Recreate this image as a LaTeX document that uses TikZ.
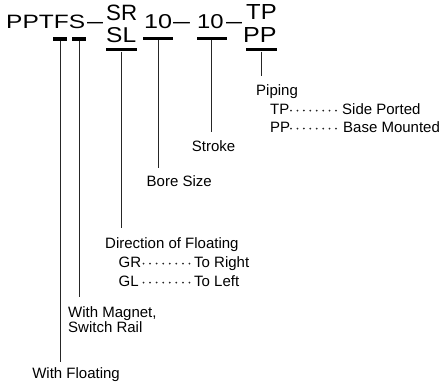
\documentclass[tikz,border=0pt]{standalone}
\usepackage{fontspec}
\setmainfont{Liberation Sans}
\usepackage{graphicx}
\newcommand\hdrbox[3]{\resizebox{#1pt}{#2pt}{#3}}
\begin{document}
\begin{tikzpicture}[x=1pt,y=-1pt,
  lbl/.style={anchor=base west,inner sep=0pt,font=\fontsize{15}{18}\selectfont},
  lble/.style={anchor=base east,inner sep=0pt,font=\fontsize{15}{18}\selectfont},
  hdr/.style={anchor=base west,inner sep=0pt},
  dashtxt/.style={anchor=base,inner sep=0pt,font=\fontsize{21}{24}\selectfont},
  barbox/.style={fill=black,inner sep=0pt,minimum height=3.3pt},
  conn/.style={line width=0.9pt,black!85},
  leaderdot/.style={fill=black!85}
  ]
\useasboundingbox (0,0) rectangle (444,388);

% header code
\node[hdr] (pptfs) at (6,28.3) {\hdrbox{79}{13.5}{PPTFS}};
\node[dashtxt] (d1) at (95,28.6) {\scalebox{1.37}[1]{–}};
\node[hdr] (sr) at (106,20) {\hdrbox{31}{15.5}{SR}};
\node[hdr] (sl) at (106,42.7) {\hdrbox{30}{15}{SL}};
\node[hdr] (bore) at (144,29) {\hdrbox{28}{14}{10}};
\node[dashtxt] (d2) at (181.5,28.6) {\scalebox{1.45}[1]{–}};
\node[hdr] (stroke) at (197,29) {\hdrbox{26.5}{14}{10}};
\node[dashtxt] (d3) at (234,28.6) {\scalebox{1.37}[1]{–}};
\node[hdr] (tp) at (246,19.3) {\hdrbox{30.5}{15}{TP}};
\node[hdr] (pp) at (243,42.7) {\hdrbox{33.5}{15}{PP}};

% bars
\node[barbox,minimum width=13.4pt] (bF) at (60,39) {};
\node[barbox,minimum width=13.4pt] (bS) at (79,39) {};
\node[barbox,minimum width=30.7pt] (bSL) at (121.3,49.7) {};
\node[barbox,minimum width=30.6pt] (b10a) at (158,38.5) {};
\node[barbox,minimum width=30pt] (b10b) at (211.7,38.5) {};
\node[barbox,minimum width=30.7pt] (bPP) at (261.3,49.7) {};

% connector ends
\coordinate (eF) at (60,362);
\coordinate (eS) at (79,297);
\coordinate (eSL) at (121.3,228);
\coordinate (e10a) at (158,168);
\coordinate (e10b) at (211.7,132);
\coordinate (ePP) at (261.3,76);

\draw[conn] (bF.south) -- (eF);
\draw[conn] (bS.south) -- (eS);
\draw[conn] (bSL.south) -- (eSL);
\draw[conn] (b10a.south) -- (e10a);
\draw[conn] (b10b.south) -- (e10b);
\draw[conn] (bPP.south) -- (ePP);

% labels
\node[lbl] (piping) at (256,95) {Piping};
\node[lbl] (tpk) at (270,114) {TP};
\node[lbl] (tpv) at (342,114) {Side Ported};
\node[lbl] (ppk) at (270,132) {PP};
\node[lbl] (ppv) at (343,132) {Base Mounted};
\foreach \i in {0,...,7} {
  \fill[leaderdot] (291+\i*6.43,110.6) circle (1);
  \fill[leaderdot] (291+\i*6.43,128.6) circle (1);
}
\node[lbl] (strokel) at (191.7,151.7) {Stroke};
\node[lbl] (borel) at (146.5,186) {Bore Size};
\node[lbl] (dirl) at (105,248) {Direction of Floating};
\node[lbl] (grk) at (118.5,267) {GR};
\node[lbl] (grv) at (194,267) {To Right};
\node[lbl] (glk) at (118.5,286) {GL};
\node[lbl] (glv) at (194,286) {To Left};
\foreach \i in {0,...,7} {
  \fill[leaderdot] (143.5+\i*6.57,263.6) circle (1);
  \fill[leaderdot] (143.5+\i*6.57,282.6) circle (1);
}
\node[lbl] (mag1) at (68,317) {With Magnet,};
\node[lbl] (mag2) at (68,332.5) {Switch Rail};
\node[lble] (floatl) at (120,378.5) {With Floating};
\end{tikzpicture}
\end{document}
